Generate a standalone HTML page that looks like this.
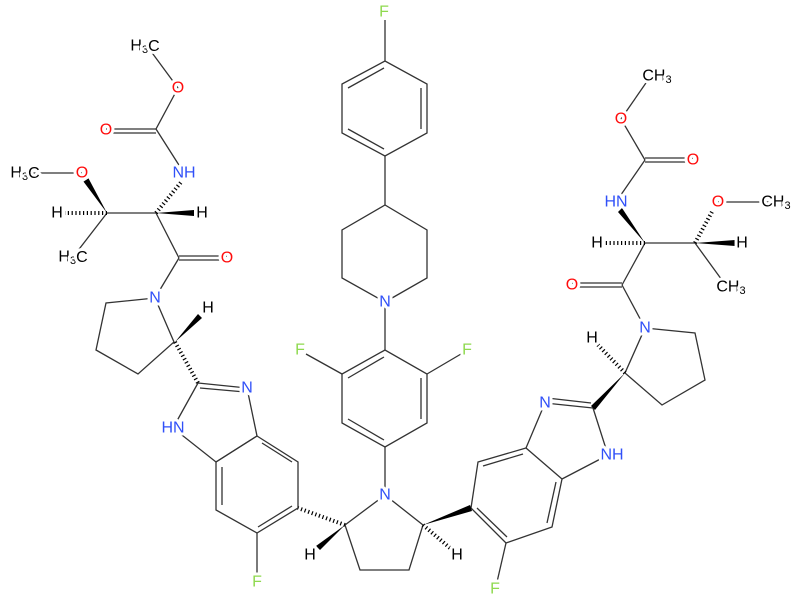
<!DOCTYPE html>
<html><head><meta charset="utf-8"><style>
html,body{margin:0;padding:0;background:#fff}
svg{display:block}
text{font-family:"Liberation Sans",sans-serif;font-size:16px;text-anchor:middle;dominant-baseline:central;stroke:#fff;stroke-width:6px;paint-order:stroke;stroke-linejoin:round}
.N{fill:#3050F8}.O{fill:#FF0D0D}.F{fill:#8FD94F}.C{fill:#000}
tspan.s{font-size:11px}
</style></head><body>
<svg width="800" height="600" viewBox="0 0 800 600">
<g stroke="#333" stroke-width="1.3" fill="none">
<!-- left carbamate -->
<line x1="150" y1="50" x2="178" y2="88"/><line x1="178" y1="88" x2="156" y2="129"/>
<line x1="156" y1="129" x2="106" y2="129"/><line x1="156" y1="133" x2="106" y2="133"/>
<line x1="156" y1="129" x2="184" y2="173"/>
<line x1="156" y1="213" x2="107" y2="213"/>
<line x1="82" y1="173" x2="25" y2="173"/>
<line x1="107" y1="213" x2="73" y2="257"/>
<line x1="156" y1="213" x2="179" y2="258"/>
<line x1="179" y1="256" x2="227" y2="256"/><line x1="179" y1="260" x2="227" y2="260"/>
<line x1="179" y1="258" x2="155" y2="298"/>
<polyline points="155,298 106,303 96,350 138,374 174,342 155,298"/>
<!-- left benzimidazole -->
<line x1="198" y1="383" x2="247" y2="388"/><line x1="200" y1="388" x2="245" y2="392"/>
<polyline points="247,388 257,436 216,462 173,428 198,383"/>
<polygon points="257,436 298,462 298,508 257,533 216,510 216,462"/>
<line x1="262" y1="443" x2="292" y2="462"/><line x1="292" y1="506" x2="258" y2="527"/><line x1="222" y1="505" x2="222" y2="467"/>
<line x1="257" y1="533" x2="257" y2="575"/>
<!-- central pyrrolidine -->
<polygon points="385,495 345,525 360,570 409,570 423,525"/>
<line x1="385" y1="495" x2="385" y2="447"/>
<!-- difluorophenyl -->
<polygon points="385,350 342,374 342,423 385,447 427,423 427,374"/>
<line x1="384" y1="357" x2="348" y2="378"/><line x1="421" y1="378" x2="421" y2="419"/><line x1="348" y1="419" x2="384" y2="440"/>
<line x1="342" y1="374" x2="306" y2="354"/><line x1="427" y1="374" x2="461" y2="354"/>
<line x1="385" y1="350" x2="385" y2="302"/>
<!-- piperidine -->
<polyline points="385,302 342,278 342,230 385,205 427,230 427,278 385,302"/>
<line x1="385" y1="205" x2="385" y2="156"/>
<!-- fluorophenyl -->
<polygon points="385,156 342,133 342,84 385,61 427,84 427,133"/>
<line x1="384" y1="68" x2="348" y2="88"/><line x1="421" y1="88" x2="421" y2="129"/><line x1="348" y1="129" x2="384" y2="149"/>
<line x1="385" y1="61" x2="385" y2="20"/>
<!-- right benzimidazole -->
<polygon points="526,448 478,462 471,508 506,543 552,527 562,479"/>
<line x1="523" y1="454" x2="483" y2="466"/><line x1="477" y1="508" x2="507" y2="537"/><line x1="547" y1="523" x2="556" y2="482"/>
<line x1="506" y1="543" x2="497" y2="582"/>
<polyline points="526,448 545,403"/><line x1="545" y1="403" x2="593" y2="408"/><line x1="547" y1="398" x2="591" y2="403"/>
<polyline points="593,408 608,455 562,479"/>
<!-- right pyrrolidine -->
<polygon points="645,328 695,333 705,380 662,405 625,373"/>
<line x1="645" y1="328" x2="622" y2="285"/>
<line x1="622" y1="283" x2="572" y2="283"/><line x1="622" y1="287" x2="572" y2="287"/>
<line x1="622" y1="285" x2="645" y2="243"/>
<line x1="645" y1="243" x2="695" y2="243"/>
<line x1="695" y1="243" x2="727" y2="287"/>
<line x1="718" y1="202" x2="772" y2="202"/>
<line x1="616" y1="202" x2="645" y2="160"/>
<line x1="645" y1="158" x2="693" y2="158"/><line x1="645" y1="162" x2="693" y2="162"/>
<line x1="645" y1="160" x2="621" y2="119"/><line x1="621" y1="119" x2="648" y2="80"/>
</g>
<!-- wedges -->
<g fill="#000">
<polygon points="156,213 194,210 194,216"/>
<polygon points="107,213 88.5,178.4 83.5,181.6"/>
<polygon points="175,342 202,318 198,314"/>
<polygon points="345,525 320,550 316,546"/>
<polygon points="423,525 472,511 470,505"/>
<polygon points="625,373 595,410 591,406"/>
<polygon points="645,243 622,208 618,212"/>
<polygon points="695,243 735,240 735,246"/>
</g>
<!-- hashes -->
<g stroke="#000" stroke-width="4" stroke-dasharray="1.2,2.6" fill="none">
<line x1="156" y1="213" x2="182" y2="181"/>
<line x1="107" y1="213" x2="65" y2="213"/>
<line x1="175" y1="342" x2="198" y2="383"/>
<line x1="345" y1="525" x2="298" y2="508"/>
<line x1="423" y1="525" x2="450" y2="548"/>
<line x1="625" y1="373" x2="598" y2="345"/>
<line x1="645" y1="243" x2="605" y2="243"/>
<line x1="695" y1="243" x2="713" y2="210"/>
</g>
<!-- labels -->
<text x="145" y="46" class="C">H<tspan class="s" dy="4">3</tspan><tspan dy="-4">C</tspan></text>
<text x="178" y="88" class="O">O</text>
<text x="106" y="130" class="O">O</text>
<text x="184" y="173" class="N">NH</text>
<text x="202" y="213" class="C">H</text>
<text x="57" y="213" class="C">H</text>
<text x="82" y="173" class="O">O</text>
<text x="25" y="173" class="C">H<tspan class="s" dy="4">3</tspan><tspan dy="-4">C</tspan></text>
<text x="73" y="257" class="C">H<tspan class="s" dy="4">3</tspan><tspan dy="-4">C</tspan></text>
<text x="227" y="258" class="O">O</text>
<text x="155" y="298" class="N">N</text>
<text x="208" y="308" class="C">H</text>
<text x="247" y="388" class="N">N</text>
<text x="173" y="428" class="N">HN</text>
<text x="257" y="582" class="F">F</text>
<text x="385" y="495" class="N">N</text>
<text x="310" y="555" class="C">H</text>
<text x="457" y="555" class="C">H</text>
<text x="300" y="350" class="F">F</text>
<text x="467" y="350" class="F">F</text>
<text x="385" y="302" class="N">N</text>
<text x="384" y="12" class="F">F</text>
<text x="495" y="589" class="F">F</text>
<text x="545" y="403" class="N">N</text>
<text x="612" y="455" class="N">NH</text>
<text x="592" y="338" class="C">H</text>
<text x="645" y="328" class="N">N</text>
<text x="572" y="285" class="O">O</text>
<text x="597" y="243" class="C">H</text>
<text x="742" y="243" class="C">H</text>
<text x="616" y="202" class="N">HN</text>
<text x="718" y="202" class="O">O</text>
<text x="776" y="202" class="C">CH<tspan class="s" dy="4">3</tspan></text>
<text x="731" y="287" class="C">CH<tspan class="s" dy="4">3</tspan></text>
<text x="693" y="160" class="O">O</text>
<text x="621" y="119" class="O">O</text>
<text x="657" y="76" class="C">CH<tspan class="s" dy="4">3</tspan></text>
</svg>
</body></html>
